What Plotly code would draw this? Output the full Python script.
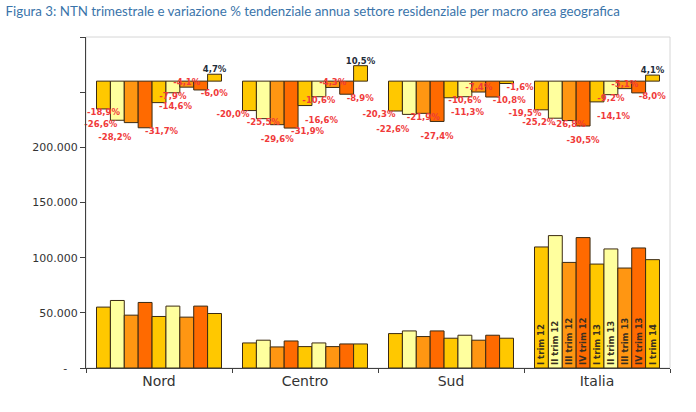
import plotly.graph_objects as go

# aree geografiche e trimestri
aree = ["Nord", "Centro", "Sud", "Italia"]
trimestri = ["I trim 12", "II trim 12", "III trim 12", "IV trim 12",
             "I trim 13", "II trim 13", "III trim 13", "IV trim 13", "I trim 14"]

# NTN trimestrale
ntn_nord = [55200, 61200, 47900, 59400, 46700, 56100, 46100, 56100, 49400]
ntn_centro = [22700, 25200, 19100, 24500, 19400, 22700, 19400, 21800, 21800]
ntn_sud = [31200, 33600, 28500, 33600, 27000, 29700, 25200, 29700, 27000]
ntn_italia = [109700, 120000, 95700, 118200, 94200, 107900, 90600, 108800, 98200]

# variazione % tendenziale annua
var_nord = [-18.9, -26.6, -28.2, -31.7, -14.6, -7.9, -4.1, -6.0, 4.7]
var_centro = [-20.0, -25.5, -29.6, -31.9, -16.6, -10.6, -4.3, -8.9, 10.5]
var_sud = [-20.3, -22.6, -21.9, -27.4, -11.3, -10.6, -7.4, -10.8, -1.6]
var_italia = [-19.5, -25.2, -26.8, -30.5, -14.1, -9.2, -5.1, -8.0, 4.1]

# asse y
y_tick_valori = [0, 50000, 100000, 150000, 200000, 250000, 300000]
y_tick_testi = ["-\u00a0\u00a0\u00a0", "50.000", "100.000", "150.000", "200.000", "", ""]

colori = ["#FFC800", "#FFFF9E", "#FF9612", "#FF6A00",
          "#FFC800", "#FFFF9E", "#FF9612", "#FF6A00", "#FFC800"]

# posizione etichette % (spostate a mano nell'originale); "+" = una riga più in basso
pos_nord = ["bottom center", "bottom left", "bottom left+", "bottom right", "bottom right",
            "bottom center", "top center", "bottom right", "top center"]
pos_centro = ["bottom left", "bottom center", "bottom center+", "bottom right", "bottom right+",
              "bottom center", "top center", "bottom right", "top center"]
pos_sud = ["bottom left", "bottom left+", "bottom center", "bottom center+", "bottom right+",
           "bottom center", "top center", "bottom right", "bottom right"]
pos_italia = ["bottom left", "bottom left", "bottom center", "bottom center+", "bottom right+",
              "bottom center", "top center", "bottom right", "top center"]

ntn = [ntn_nord, ntn_centro, ntn_sud, ntn_italia]
var = [var_nord, var_centro, var_sud, var_italia]
pos = [pos_nord, pos_centro, pos_sud, pos_italia]

fig = go.Figure()

for j, trim in enumerate(trimestri):
    # barre NTN
    fig.add_trace(go.Bar(
        x=aree, y=[a[j] for a in ntn], name=trim,
        marker=dict(color=colori[j], line=dict(color="#3B2A12", width=1)),
        text=["", "", "", trim], textposition="inside", insidetextanchor="start",
        textangle=-90, textfont=dict(size=8.5, color="#3A3020", weight="bold"),
        constraintext="none",
        offsetgroup=str(j), showlegend=False, hoverinfo="skip",
    ))
    # barre variazione %
    valori = [a[j] for a in var]
    fig.add_trace(go.Bar(
        x=aree, y=valori, yaxis="y2",
        marker=dict(color=colori[j], line=dict(color="#3B2A12", width=1)),
        offsetgroup=str(j), showlegend=False, hoverinfo="skip",
    ))
    # etichette %
    posizioni = [p[j] for p in pos]
    etichette = [f"{v:.1f}%".replace(".", ",") for v in valori]
    etichette = ["<br>" + e if p.endswith("+") else e for e, p in zip(etichette, posizioni)]
    fig.add_trace(go.Scatter(
        x=aree, y=valori, yaxis="y2", mode="text",
        text=etichette,
        textposition=[p.rstrip("+") for p in posizioni],
        textfont=dict(size=8.5, weight="bold",
                      color=["#F03A3A" if v < 0 else "#1E2C3A" for v in valori]),
        offsetgroup=str(j), cliponaxis=False, showlegend=False, hoverinfo="skip",
    ))

fig.update_layout(
    width=696, height=412,
    margin=dict(l=86, r=26, t=37, b=44),
    paper_bgcolor="white", plot_bgcolor="white",
    font=dict(family="DejaVu Sans", color="#333333"),
    barmode="group", bargap=0.144, bargroupgap=0,
    scattermode="group", scattergap=0.144,
    title=dict(
        text="Figura 3: NTN trimestrale e variazione % tendenziale annua settore residenziale per macro area geografica",
        x=0.008, xanchor="left", y=0.972, yanchor="middle",
        font=dict(family="Lato", size=13.3, color="#3A74AA"),
    ),
    xaxis=dict(
        type="category", categoryorder="array", categoryarray=aree,
        tickson="boundaries", ticks="outside", ticklen=4, tickcolor="#404040",
        showline=True, linecolor="#404040", linewidth=1,
        showgrid=False, tickfont=dict(size=14, color="#333333"),
    ),
    yaxis=dict(
        range=[0, 300000], tickvals=y_tick_valori, ticktext=y_tick_testi,
        ticks="outside", ticklen=5, tickcolor="#404040",
        showline=True, linecolor="#404040", linewidth=1,
        showgrid=False, zeroline=False, tickfont=dict(size=11, color="#333333"),
    ),
    yaxis2=dict(
        overlaying="y", anchor="x", range=[-195, 30], visible=False,
        showgrid=False, zeroline=False,
    ),
    shapes=[dict(type="rect", xref="paper", yref="paper", x0=0, x1=1, y0=0, y1=1,
                 line=dict(color="#D6D6D6", width=1), layer="below")],
)

fig.write_html("out.html", config={"displayModeBar": False},
               post_script="document.body.style.margin='0';")
